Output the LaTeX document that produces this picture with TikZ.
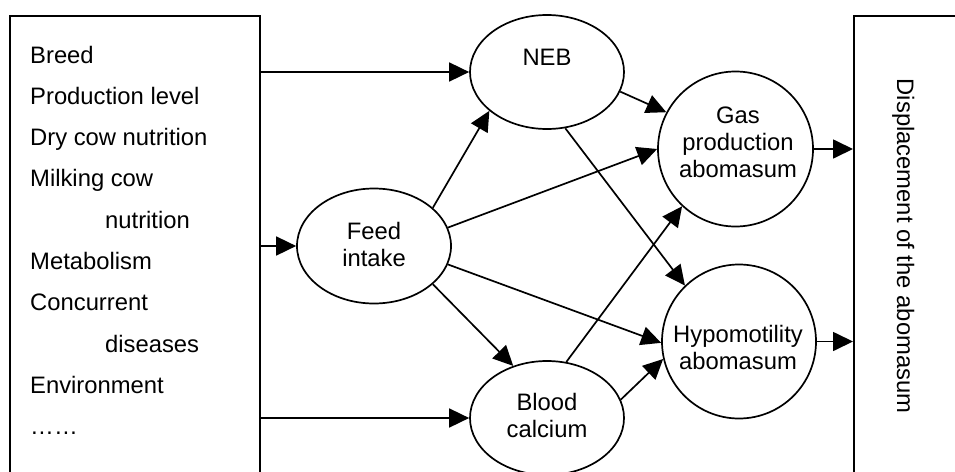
\documentclass[tikz,border=0pt]{standalone}
\usepackage{fontspec}
\setmainfont{Liberation Sans}
\usetikzlibrary{arrows.meta,shapes.geometric}
% stacked lines whose baseline is the first line's baseline
\newcommand{\linesc}[1]{\begin{tabular}[t]{@{}c@{}}#1\end{tabular}}
\newcommand{\linesl}[1]{\begin{tabular}[t]{@{}l@{}}#1\end{tabular}}
\begin{document}
\begin{tikzpicture}[x=1pt,y=-1pt,
  every node/.style={inner sep=0pt},
  box/.style={draw, line width=1.7pt},
  oval/.style={draw, ellipse, line width=1.7pt, minimum width=154pt, minimum height=114pt},
  rnd/.style={draw, circle, line width=1.7pt, minimum size=155pt},
  txt/.style={font=\fontsize{23.8}{27}\selectfont, anchor=base},
  arr/.style={line width=1.7pt, -{Triangle[length=20pt,width=19pt]}}]
\clip (0,0) rectangle (955,471);
\fill[white] (0,0) rectangle (955,471);

% outer boxes
\node[box, anchor=north west, minimum width=250pt, minimum height=480pt] (src) at (9,15) {};
\node[box, anchor=north west, minimum width=130pt, minimum height=480pt] (disp) at (853,15) {};

% risk factors
\node[anchor=base west, font=\fontsize{23.8}{41.3}\selectfont] (factors) at (30,63)
  {\linesl{Breed\\Production level\\Dry cow nutrition\\Milking cow\\\hspace*{75pt}nutrition\\Metabolism\\Concurrent\\\hspace*{75pt}diseases\\Environment\\……}};

\node[font=\fontsize{23.8}{27}\selectfont, rotate=-90, anchor=base] (disptext) at (897,246) {Displacement of the abomasum};

% intermediate states
\node[oval] (neb) at (547,72) {};
\node[oval, minimum height=115pt] (feed) at (374,246) {};
\node[oval] (blood) at (547,418) {};
\node[rnd] (gas) at (735.5,149) {};
\node[rnd, minimum size=154pt] (hypo) at (739,341.5) {};

\node[txt] (neb-t) at (547,65) {NEB};
\node[txt] (feed-t) at (374,239) {\linesc{Feed\\intake}};
\node[txt] (blood-t) at (547,410) {\linesc{Blood\\calcium}};
\node[txt] (gas-t) at (738,123) {\linesc{Gas\\production\\abomasum}};
\node[txt] (hypo-t) at (738,342) {\linesc{Hypomotility\\abomasum}};

% connectors
\draw[arr] (src.east |- neb.west) -- (neb.west);
\draw[arr] (src.east |- feed.west) -- (feed.west);
\draw[arr] (src.east |- blood.west) -- (blood.west);

\draw[arr] (feed.33.5) -- (neb.214.6);
\draw[arr] (feed.-33.5) -- (blood.123.9);
\draw[arr] (feed.14) -- (gas.180);
\draw[arr] (feed.-14) -- (hypo.181);

\draw[arr] (neb.-15.4) -- (gas.152);
\draw[arr] (neb.-72.8) -- (hypo.134.6);
\draw[arr] (blood.71.6) -- (gas.227.6);
\draw[arr] (blood.14.7) -- (hypo.193.5);

\draw[arr] (gas.east) -- (disp.west |- gas.east);
\draw[arr] (hypo.east) -- (disp.west |- hypo.east);
\end{tikzpicture}
\end{document}
